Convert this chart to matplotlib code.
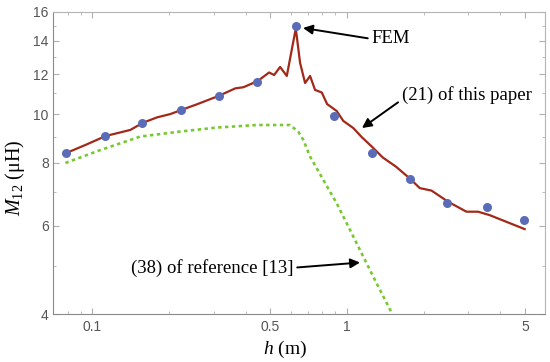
import matplotlib

matplotlib.use("Agg")
import matplotlib.pyplot as plt
from matplotlib.ticker import FixedLocator, NullFormatter

# FEM points
fem_h = [0.079, 0.1125, 0.157, 0.223, 0.314, 0.445, 0.629, 0.889, 1.25, 1.77, 2.48, 3.54, 4.96]
fem_m = [8.36, 9.07, 9.61, 10.2, 10.89, 11.61, 14.99, 9.92, 8.36, 7.43, 6.67, 6.55, 6.17]

# (21) of this paper
paper_h = [0.0783, 0.0939, 0.1125, 0.141, 0.158, 0.1794, 0.2023, 0.2234, 0.2576, 0.3148,
           0.3639, 0.392, 0.4466, 0.4943, 0.5173, 0.546, 0.5802, 0.6293, 0.6543, 0.6846,
           0.7161, 0.7492, 0.7961, 0.8354, 0.9112, 0.9672, 1.0585, 1.1419, 1.2531, 1.384,
           1.556, 1.766, 1.932, 2.148, 2.495, 2.946, 3.273, 3.636, 4.23, 4.989]
paper_m = [8.36, 8.69, 9.05, 9.31, 9.62, 9.86, 10.01, 10.2, 10.47, 10.89,
           11.26, 11.32, 11.65, 12.11, 11.97, 12.42, 11.92, 14.81, 12.65, 11.54,
           11.92, 11.18, 11.05, 10.48, 10.15, 9.7, 9.39, 9.01, 8.62, 8.2,
           7.87, 7.45, 7.13, 7.05, 6.7, 6.4, 6.4, 6.3, 6.11, 5.91]

# (38) of reference [13]
ref_h = [0.0783, 0.1075, 0.1542, 0.2214, 0.3083, 0.4426, 0.5977, 0.644, 0.674, 0.7161,
         0.8075, 0.9112, 1.0275, 1.1585, 1.3076, 1.497, 1.52]
ref_m = [8.0, 8.49, 9.03, 9.24, 9.41, 9.52, 9.52, 9.23, 8.89, 8.24,
         7.40, 6.65, 5.89, 5.21, 4.61, 4.03, 3.97]

x_ticks = [0.1, 0.5, 1, 5]
x_ticklabels = ["0.1", "0.5", "1", "5"]
x_minor = [0.07, 0.08, 0.09, 0.2, 0.3, 0.4, 0.6, 0.7, 0.8, 0.9, 2, 3, 4, 6]
y_ticks = [4, 6, 8, 10, 12, 14, 16]
y_minor = [5, 7, 9, 11, 13, 15]

plt.rcParams["mathtext.fontset"] = "custom"
plt.rcParams["mathtext.rm"] = "Liberation Serif"
plt.rcParams["mathtext.it"] = "Liberation Serif:italic"

fig = plt.figure(figsize=(5.5, 3.62), dpi=100)
ax = fig.add_axes([0.0964, 0.1318, 0.8946, 0.8359])

ax.plot(ref_h, ref_m, color="#78c832", lw=1.9, linestyle=(0, (1.3, 1.3)), zorder=2)
ax.plot(paper_h, paper_m, color="#a2291a", lw=1.6, zorder=3)
ax.plot(fem_h, fem_m, "o", color="#5a6cb8", markersize=6.5, markeredgewidth=0, zorder=4)

ax.set_xscale("log")
ax.set_yscale("log")
ax.set_xlim(0.07, 6.0)
ax.set_ylim(4, 16)

ax.xaxis.set_major_locator(FixedLocator(x_ticks))
ax.set_xticklabels(x_ticklabels)
ax.xaxis.set_minor_locator(FixedLocator(x_minor))
ax.xaxis.set_minor_formatter(NullFormatter())
ax.yaxis.set_major_locator(FixedLocator(y_ticks))
ax.set_yticklabels([str(v) for v in y_ticks])
ax.yaxis.set_minor_locator(FixedLocator(y_minor))
ax.yaxis.set_minor_formatter(NullFormatter())

ax.tick_params(which="both", direction="in", top=True, right=True, color="#b0b0b0",
               labelcolor="#555555", labelsize=10)
ax.tick_params(which="major", length=4, width=0.8)
ax.tick_params(which="minor", length=2, width=0.6)
ax.tick_params(axis="x", pad=4)
ax.tick_params(axis="y", pad=3)
for lbl in ax.get_xticklabels() + ax.get_yticklabels():
    lbl.set_family("Liberation Sans")

for side in ["left", "bottom"]:
    ax.spines[side].set_color("#8a8a8a")
for side in ["top", "right"]:
    ax.spines[side].set_color("#b4b4b4")

ax.set_xlabel(r"$h$ (m)", fontsize=14, family="Liberation Serif", va="center")
ax.xaxis.set_label_coords(0.4715, -0.115)
ax.set_ylabel(r"$M_{12}$ (μH)", fontsize=14.5, family="Liberation Serif", va="center")
ax.yaxis.set_label_coords(-0.077, 0.45)

arrow = dict(arrowstyle="-|>", color="black", lw=1.4, mutation_scale=14, shrinkA=1, shrinkB=0)
ax.annotate("FEM", xy=(0.672, 14.85), xytext=(1.253, 14.12), ha="left", va="center",
            fontsize=13.5, family="Liberation Serif", arrowprops=dict(arrow, relpos=(0, 0.5)))
ax.annotate("(21) of this paper", xy=(1.145, 9.39), xytext=(1.644, 10.92), ha="left",
            va="center", fontsize=13.5, family="Liberation Serif",
            arrowprops=dict(arrow, relpos=(0, 0.25)))
ax.annotate("(38) of reference [13]", xy=(1.125, 5.07), xytext=(0.614, 4.95), ha="right",
            va="center", fontsize=13.5, family="Liberation Serif",
            arrowprops=dict(arrow, relpos=(1, 0.5)))

fig.savefig("out.png", dpi=100)
